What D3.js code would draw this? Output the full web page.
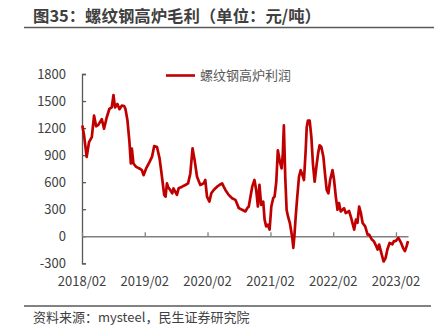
<!DOCTYPE html>
<html><head><meta charset="utf-8">
<script src="https://cdn.jsdelivr.net/npm/d3@7"></script>
<style>
html,body{margin:0;padding:0;background:#fff;}
svg{display:block;font-family:"Noto Sans CJK SC","Noto Sans",sans-serif;}
</style></head>
<body>
<svg id="c" width="434" height="328"></svg>
<script>
const title = "图35：螺纹钢高炉毛利（单位：元/吨）";
const seriesName = "螺纹钢高炉利润";
const source = "资料来源：mysteel，民生证券研究院";
const yTicks = [-300, 0, 300, 600, 900, 1200, 1500, 1800];
const xTickLabels = ["2018/02","2019/02","2020/02","2021/02","2022/02","2023/02"];
const dates = [
"2018-02-03","2018-02-13","2018-02-28","2018-03-14","2018-03-30","2018-04-12","2018-04-24","2018-05-07","2018-05-27","2018-06-09",
"2018-06-25","2018-07-10","2018-07-24","2018-08-03","2018-08-12","2018-08-26","2018-09-07","2018-09-21","2018-10-04","2018-10-12",
"2018-10-23","2018-11-04","2018-11-12","2018-11-18","2018-11-27","2018-12-13","2019-01-01","2019-01-15","2019-01-25","2019-02-09",
"2019-03-01","2019-03-15","2019-03-28","2019-04-13","2019-04-28","2019-05-12","2019-05-25","2019-06-02","2019-06-10","2019-06-16",
"2019-06-29","2019-07-11","2019-07-18","2019-08-07","2019-08-17","2019-09-06","2019-09-25","2019-10-11","2019-10-24","2019-11-06",
"2019-11-18","2019-12-02","2019-12-21","2020-01-10","2020-01-19","2020-01-29","2020-02-12","2020-02-23","2020-03-08","2020-03-18",
"2020-03-28","2020-04-10","2020-04-26","2020-05-05","2020-05-15","2020-06-03","2020-06-23","2020-07-12","2020-08-01","2020-08-20",
"2020-09-09","2020-09-19","2020-09-28","2020-10-08","2020-10-18","2020-10-31","2020-11-10","2020-11-20","2020-11-29","2020-12-09",
"2020-12-21","2020-12-29","2021-01-07","2021-01-17","2021-01-27","2021-02-06","2021-02-17","2021-02-25","2021-03-07","2021-03-16",
"2021-03-28","2021-04-07","2021-04-14","2021-04-20","2021-04-28","2021-05-06","2021-05-14","2021-05-25","2021-06-08","2021-06-14",
"2021-06-20","2021-06-28","2021-07-07","2021-07-17","2021-07-27","2021-08-06","2021-08-15","2021-08-25","2021-08-31","2021-09-07",
"2021-09-17","2021-09-27","2021-10-06","2021-10-16","2021-10-26","2021-11-05","2021-11-14","2021-11-24","2021-12-06","2021-12-15",
"2021-12-25","2022-01-04","2022-01-14","2022-01-28","2022-02-06","2022-02-16","2022-02-26","2022-03-07","2022-03-17","2022-04-05",
"2022-04-15","2022-05-04","2022-05-14","2022-06-03","2022-06-13","2022-06-22","2022-07-02","2022-07-12","2022-07-22","2022-08-06",
"2022-08-20","2022-08-29","2022-09-14","2022-09-25","2022-10-07","2022-10-17","2022-10-26","2022-11-05","2022-11-21","2022-12-03",
"2022-12-13","2022-12-26","2023-01-11","2023-01-20","2023-01-30","2023-02-15","2023-03-03","2023-03-14","2023-03-25","2023-04-04",
"2023-04-12"];
const profits = [
1229,1119,880,1045,1100,1339,1220,1236,1300,1192,
1320,1412,1430,1566,1430,1467,1410,1450,1445,1410,
1290,1045,807,972,807,770,752,733,678,752,
825,880,1001,990,866,660,459,440,587,550,
514,477,530,459,532,550,569,587,697,974,
844,660,569,587,624,440,385,477,514,532,
550,569,587,550,514,459,422,404,312,294,
275,312,330,440,550,624,514,330,569,349,
385,184,110,128,74,330,422,440,605,954,
825,752,917,1229,660,294,220,147,-18,-128,
0,220,440,660,733,678,624,954,1210,1284,
1284,1100,807,605,770,917,1009,990,880,697,
514,477,624,733,624,440,294,367,275,312,
257,280,220,74,184,150,330,257,147,110,
18,18,-37,-55,-100,-147,-92,-165,-280,-239,
-147,-74,-90,-55,-55,-18,-74,-128,-165,-110,
-55];

const svg = d3.select("#c");
const parse = d3.timeParse("%Y-%m-%d");
const data = dates.map((d,i)=>({date:parse(d), v:profits[i]}));

const x = d3.scaleTime().domain([parse("2018-02-01"), parse("2023-04-12")]).range([82, 408]);
const y = d3.scaleLinear().domain([-300, 1800]).range([263.3, 74]);

// title
svg.append("text").attr("x",33).attr("y",22).attr("font-size",16.4).attr("font-weight","bold")
  .attr("fill","#404040").text(title);
svg.append("line").attr("x1",24).attr("x2",434).attr("y1",27.5).attr("y2",27.5)
  .attr("stroke","#595959").attr("stroke-width",1.3);

// y axis
const yAxis = d3.axisRight(y).tickValues(yTicks).tickSize(4).tickFormat("");
const gy = svg.append("g").attr("transform","translate(82,0)").call(yAxis);
gy.select(".domain").attr("stroke","#595959").attr("stroke-width",1.3);
gy.selectAll(".tick line").attr("stroke","#595959").attr("stroke-width",1.3);
svg.append("g").selectAll("text").data(yTicks).join("text")
  .attr("x",66).attr("y",d=>y(d)).attr("dy","0.35em").attr("text-anchor","end")
  .attr("font-size",13).attr("fill","#404040").text(d=>d);

// x axis at 0
const tickDates = xTickLabels.map(s=>d3.timeParse("%Y/%m")(s));
const xAxis = d3.axisTop(x).tickValues(tickDates).tickSize(4).tickFormat("").tickSizeOuter(0);
const gx = svg.append("g").attr("transform",`translate(0,${y(0)})`).call(xAxis);
gx.select(".domain").attr("stroke","#808080").attr("stroke-width",1.3);
gx.selectAll(".tick line").attr("stroke","#808080").attr("stroke-width",1.3);
svg.append("g").selectAll("text").data(tickDates).join("text")
  .attr("x",d=>x(d)).attr("y",286).attr("text-anchor","middle")
  .attr("font-size",13).attr("fill","#404040").text((d,i)=>xTickLabels[i]);

// line
const line = d3.line().x(d=>x(d.date)).y(d=>y(d.v)).curve(d3.curveLinear);
svg.append("path").datum(data).attr("d",line).attr("fill","none")
  .attr("stroke","#C00000").attr("stroke-width",2.7).attr("stroke-linejoin","round");

// legend
svg.append("line").attr("x1",166).attr("x2",195).attr("y1",75.5).attr("y2",75.5)
  .attr("stroke","#C00000").attr("stroke-width",2.6);
svg.append("text").attr("x",200).attr("y",75.5).attr("dy","0.35em").attr("font-size",13)
  .attr("fill","#595959").text(seriesName);

// footer
svg.append("line").attr("x1",24).attr("x2",431).attr("y1",306).attr("y2",306)
  .attr("stroke","#595959").attr("stroke-width",1.3);
svg.append("text").attr("x",33).attr("y",322).attr("font-size",13)
  .attr("fill","#404040").text(source);
</script>
</body></html>
